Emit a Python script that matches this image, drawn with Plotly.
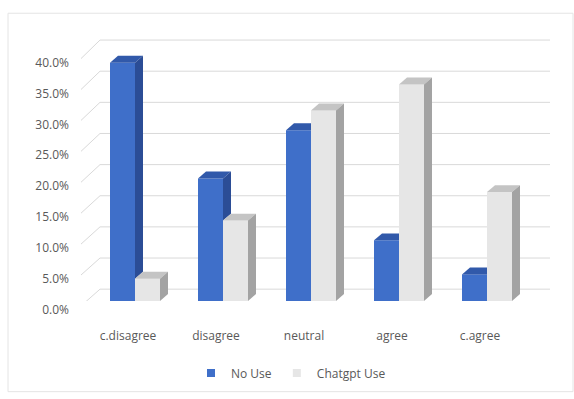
import plotly.graph_objects as go

# ---- data -------------------------------------------------------------
categories = ["c.disagree", "disagree", "neutral", "agree", "c.agree"]
no_use = [38.5, 19.8, 27.6, 9.8, 4.3]
chatgpt_use = [3.6, 13.0, 30.8, 35.0, 17.6]
y_ticks = [0, 5, 10, 15, 20, 25, 30, 35, 40]
y_tick_labels = ["0.0%", "5.0%", "10.0%", "15.0%", "20.0%",
                 "25.0%", "30.0%", "35.0%", "40.0%"]

# ---- styling / geometry ----------------------------------------------
W, H = 574, 399
PLOT_L, PLOT_R, PLOT_T, PLOT_B = 78, 552, 30, 305
PX_X = 88.0          # pixels per category step
PX_Y = 6.28          # pixels per percentage point (bar fronts)
X0_PX = 128.0        # pixel of the first category tick
x_range = [(PLOT_L - X0_PX) / PX_X, (PLOT_R - X0_PX) / PX_X]
y_range = [0, (PLOT_B - PLOT_T) / PX_Y]

BAR_W = 25 / PX_X    # width of a bar front
SHIFT = 7 / PX_X     # bars sit slightly right of the label
DX = 8 / PX_X        # depth of the 3-D extrusion (x)
DY = 7 / PX_Y        # depth of the 3-D extrusion (y)

# back wall: its zero line sits higher and its scale is a touch larger
WALL_ZERO_PX, WALL_PX_Y = 293.0, 6.32
WALL_X0 = (100 - X0_PX) / PX_X
WALL_X1 = (550 - X0_PX) / PX_X
# the value labels sit at the front-left corner of the floor
LABEL_ZERO_PX, LABEL_PX_Y = 310.0, 6.275
LABEL_X = (81 - X0_PX) / PX_X

TEXT = "#595959"
GRID = "#d9d9d9"
BLUE = dict(front="#3f6fc9", top="#3159aa", side="#2b4d96")
GREY = dict(front="#e6e6e6", top="#c4c4c4", side="#a3a3a3")


def px_to_paper_x(px):
    return (px - PLOT_L) / (PLOT_R - PLOT_L)


def px_to_paper_y(px):
    return (PLOT_B - px) / (PLOT_B - PLOT_T)


def px_to_y(px):
    return (PLOT_B - px) / PX_Y


def poly(xs, ys, color):
    return go.Scatter(x=xs + [xs[0]], y=ys + [ys[0]], mode="lines",
                      fill="toself", fillcolor=color,
                      line=dict(width=0, color=color),
                      hoverinfo="skip", showlegend=False)


fig = go.Figure()

xpos = [i + SHIFT for i in range(len(categories))]

# bar fronts
fig.add_trace(go.Bar(x=xpos, y=no_use, width=BAR_W, offset=-BAR_W,
                     marker=dict(color=BLUE["front"], line=dict(width=0)),
                     name="No Use", showlegend=False))
fig.add_trace(go.Bar(x=xpos, y=chatgpt_use, width=BAR_W, offset=0,
                     marker=dict(color=GREY["front"], line=dict(width=0)),
                     name="Chatgpt Use", showlegend=False))

# 3-D tops and sides
for xc, hn, hc in zip(xpos, no_use, chatgpt_use):
    x0n, x1n = xc - BAR_W, xc
    x0c, x1c = xc, xc + BAR_W
    # "No Use" faces, partly hidden behind the neighbouring bar
    if hn > hc:
        fig.add_trace(poly([x0n, x1n, x1n + DX, x0n + DX],
                           [hn, hn, hn + DY, hn + DY], BLUE["top"]))
        fig.add_trace(poly([x1n, x1n, x1n + DX, x1n + DX],
                           [hc, hn, hn + DY, hc + DY], BLUE["side"]))
    else:
        fig.add_trace(poly([x0n, x1n, x1n, x0n + DX],
                           [hn, hn, hn + DY, hn + DY], BLUE["top"]))
    # "Chatgpt Use" faces
    fig.add_trace(poly([x0c, x1c, x1c + DX, x0c + DX],
                       [hc, hc, hc + DY, hc + DY], GREY["top"]))
    fig.add_trace(poly([x1c, x1c, x1c + DX, x1c + DX],
                       [0, hc, hc + DY, DY], GREY["side"]))

# legend entries
for name, col in (("No Use", BLUE["front"]), ("Chatgpt Use", GREY["front"])):
    fig.add_trace(go.Scatter(x=[None], y=[None], mode="markers", name=name,
                             marker=dict(symbol="square", size=8, color=col)))

# back wall gridlines and the slanted lines that lead to the labels
shapes = []
for v in y_ticks:
    wy = px_to_y(WALL_ZERO_PX - WALL_PX_Y * v)
    ly = px_to_y(LABEL_ZERO_PX - LABEL_PX_Y * v)
    shapes.append(dict(type="line", xref="x", yref="y", layer="below",
                       x0=WALL_X0, x1=WALL_X1, y0=wy, y1=wy,
                       line=dict(color=GRID, width=1)))
    shapes.append(dict(type="line", xref="x", yref="y", layer="below",
                       x0=LABEL_X, x1=WALL_X0, y0=ly, y1=wy,
                       line=dict(color=GRID, width=1)))
# chart frame
shapes.append(dict(type="rect", xref="paper", yref="paper", layer="below",
                   x0=px_to_paper_x(8), x1=px_to_paper_x(573),
                   y0=px_to_paper_y(397), y1=px_to_paper_y(13),
                   line=dict(color="#e4e4e4", width=1)))

fig.update_layout(
    width=W, height=H,
    margin=dict(l=PLOT_L, r=W - PLOT_R, t=PLOT_T, b=H - PLOT_B, pad=0),
    paper_bgcolor="white", plot_bgcolor="white",
    font=dict(family="Open Sans", size=12, color=TEXT),
    barmode="overlay",
    shapes=shapes,
    showlegend=True,
    legend=dict(orientation="h", x=px_to_paper_x(291), xanchor="center",
                y=px_to_paper_y(378), yanchor="middle",
                font=dict(size=12, color=TEXT), itemwidth=30,
                bgcolor="rgba(0,0,0,0)"),
    xaxis=dict(range=x_range, tickvals=list(range(len(categories))),
               ticktext=categories, showgrid=False, zeroline=False,
               showline=False, ticks="", ticklabelstandoff=26,
               tickfont=dict(size=12, color=TEXT), fixedrange=True),
    yaxis=dict(range=y_range, tickvals=y_ticks, ticktext=y_tick_labels,
               showgrid=False, zeroline=False, showline=False, ticks="",
               ticklabelshift=9, ticklabelstandoff=8,
               tickfont=dict(size=12, color=TEXT), fixedrange=True),
)

fig.write_html("out.html")
